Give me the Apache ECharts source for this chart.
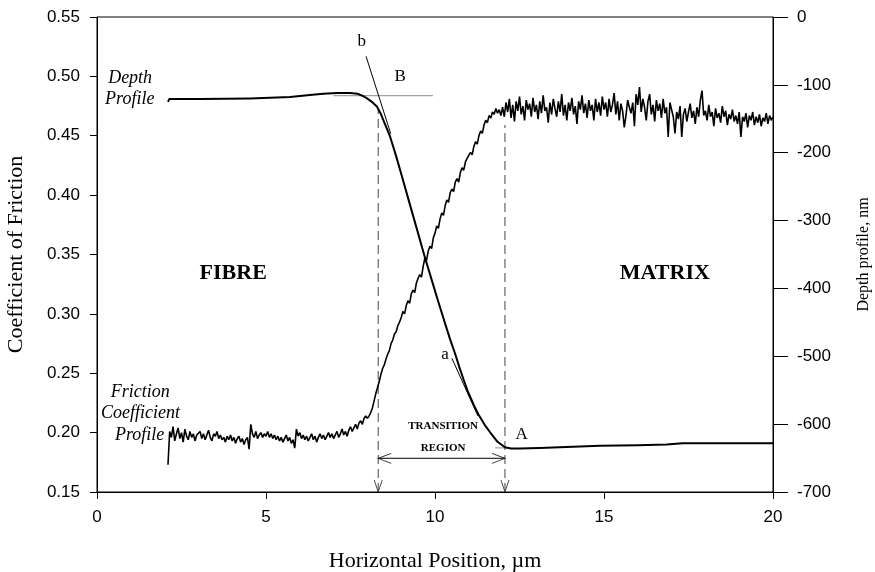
<!DOCTYPE html>
<html><head><meta charset="utf-8">
<script src="https://cdn.jsdelivr.net/npm/echarts@6/dist/echarts.min.js"></script>
<style>html,body{margin:0;padding:0;background:#fff}#c{width:875px;height:572px}</style>
</head><body><div id="c"></div>
<script>
// ---------------- data ----------------
const xTicks = [0, 5, 10, 15, 20];
const frictionStartX = 2.1;
const frictionStepX = 0.05;
const friction = [
  // 2.10 - 2.95
  0.173, 0.201, 0.196, 0.205, 0.193, 0.199, 0.204, 0.195, 0.200, 0.192, 0.203, 0.197, 0.194, 0.201, 0.196, 0.199, 0.193, 0.198,
  // 3.00 - 3.95
  0.197, 0.201, 0.195, 0.199, 0.194, 0.198, 0.202, 0.196, 0.193, 0.199, 0.197, 0.201, 0.195, 0.198, 0.194, 0.196, 0.192, 0.197, 0.194, 0.198,
  // 4.00 - 4.95
  0.193, 0.196, 0.191, 0.195, 0.197, 0.192, 0.195, 0.190, 0.194, 0.196, 0.186, 0.207, 0.199, 0.196, 0.201, 0.195, 0.198, 0.200, 0.196, 0.199,
  // 5.00 - 5.95
  0.197, 0.201, 0.196, 0.199, 0.195, 0.198, 0.194, 0.197, 0.193, 0.196, 0.192, 0.195, 0.198, 0.193, 0.196, 0.191, 0.194, 0.187, 0.203, 0.197,
  // 6.00 - 6.95
  0.200, 0.195, 0.198, 0.194, 0.197, 0.193, 0.196, 0.199, 0.194, 0.197, 0.192, 0.196, 0.199, 0.195, 0.198, 0.194, 0.197, 0.200, 0.196, 0.199,
  // 7.00 - 7.95
  0.195, 0.198, 0.201, 0.196, 0.199, 0.203, 0.198, 0.201, 0.197, 0.202, 0.205, 0.201, 0.204, 0.207, 0.203, 0.208, 0.210, 0.207, 0.212, 0.214,
  // 8.00 - 8.95
  0.212, 0.214, 0.217, 0.221, 0.227, 0.233, 0.238, 0.243, 0.249, 0.254, 0.257, 0.262, 0.266, 0.269, 0.275, 0.278, 0.283, 0.285, 0.290, 0.293,
  // 9.00 - 9.95
  0.297, 0.302, 0.300, 0.307, 0.311, 0.309, 0.317, 0.320, 0.318, 0.326, 0.330, 0.333, 0.331, 0.340, 0.347, 0.345, 0.353, 0.357, 0.355, 0.364,
  // 10.00 - 10.95
  0.368, 0.374, 0.372, 0.380, 0.385, 0.383, 0.391, 0.396, 0.394, 0.402, 0.405, 0.403, 0.411, 0.414, 0.411, 0.419, 0.423, 0.421, 0.428, 0.431,
  // 11.00 - 11.95
  0.430, 0.436, 0.434, 0.441, 0.445, 0.443, 0.450, 0.454, 0.452, 0.459, 0.463, 0.461, 0.467, 0.465, 0.470, 0.468, 0.473, 0.469, 0.472, 0.467,
  // 12.00 - 12.95
  0.474, 0.466, 0.478, 0.470, 0.481, 0.465, 0.476, 0.462, 0.479, 0.471, 0.483, 0.468, 0.475, 0.463, 0.480, 0.472, 0.477, 0.466, 0.482, 0.470,
  // 13.00 - 13.95
  0.476, 0.464, 0.479, 0.469, 0.484, 0.471, 0.474, 0.461, 0.478, 0.468, 0.481, 0.473, 0.466, 0.479, 0.470, 0.485, 0.467, 0.476, 0.463, 0.478,
  // 14.00 - 14.95
  0.471, 0.482, 0.468, 0.475, 0.460, 0.479, 0.472, 0.484, 0.469, 0.477, 0.465, 0.480, 0.471, 0.476, 0.463, 0.481, 0.470, 0.478, 0.467, 0.483,
  // 15.00 - 15.95
  0.472, 0.478, 0.466, 0.481, 0.470, 0.476, 0.486, 0.468, 0.479, 0.463, 0.477, 0.471, 0.457, 0.467, 0.480, 0.474, 0.469, 0.478, 0.458, 0.485,
  // 16.00 - 16.95
  0.476, 0.491, 0.470, 0.481, 0.474, 0.463, 0.479, 0.485, 0.468, 0.476, 0.462, 0.480, 0.471, 0.477, 0.465, 0.481, 0.469, 0.474, 0.449, 0.478,
  // 17.00 - 17.95
  0.472, 0.466, 0.452, 0.470, 0.464, 0.475, 0.449, 0.468, 0.473, 0.462, 0.470, 0.477, 0.465, 0.471, 0.460, 0.474, 0.466, 0.480, 0.488, 0.467,
  // 18.00 - 18.95
  0.471, 0.463, 0.476, 0.466, 0.470, 0.458, 0.473, 0.465, 0.469, 0.461, 0.475, 0.466, 0.471, 0.459, 0.468, 0.464, 0.472, 0.462, 0.467, 0.460,
  // 19.00 - 20.00
  0.470, 0.449, 0.466, 0.462, 0.469, 0.457, 0.467, 0.463, 0.470, 0.459, 0.466, 0.461, 0.468, 0.458, 0.465, 0.462, 0.469, 0.460, 0.467, 0.463, 0.466
];
const depthX  = [2.10, 2.14, 3.05, 4.53, 5.71, 6.30, 6.69, 7.10, 7.49, 7.70, 7.85, 7.99, 8.13, 8.28, 8.40, 8.52, 8.67, 8.85, 9.00, 9.21, 9.45, 9.70, 9.90, 10.05, 10.25, 10.44, 10.60, 10.72, 10.85, 10.98, 11.15, 11.30, 11.47, 11.63, 11.85, 12.07, 12.25, 12.51, 13.10, 13.69, 14.88, 16.00, 16.85, 17.33, 18.50, 20.00];
const depthNm = [-125, -121, -121, -120, -118, -115, -113, -112, -112, -113, -116, -120, -125, -132, -143, -158, -176, -205, -231, -268, -310, -354, -387, -412, -444, -474, -497, -516, -535, -553, -572, -587, -601, -612, -626, -634, -636, -636, -635, -634, -632, -631, -630, -628, -628, -628];
const transitionStart = 8.32;
const transitionEnd = 12.07;
const lineB = [[7.0, -116], [9.94, -116]];
const tangentB = [[7.96, -58], [8.69, -172]];
const tangentA = [[10.50, -503], [11.27, -588]];
const tickA = [[11.78, -635], [12.15, -635]];

// ---------------- build ----------------
const serif = 'Liberation Serif';
const sans = 'Liberation Sans';
const frictionData = friction.map((v, i) => [frictionStartX + i * frictionStepX, v]);
const depthData = depthX.map((x, i) => [x, depthNm[i]]);

function txt(x, y, s, extra) {
  return { value: [x, y], name: s, label: Object.assign({ fontFamily: serif, fontSize: 17, color: '#000', opacity: 1, textBorderWidth: 0 }, extra || {}) };
}
const texts = [
  txt(0.98, 0.4986, 'Depth', { fontStyle: 'italic', fontSize: 18 }),
  txt(0.97, 0.4807, 'Profile', { fontStyle: 'italic', fontSize: 18 }),
  txt(1.28, 0.2336, 'Friction', { fontStyle: 'italic', fontSize: 18 }),
  txt(1.29, 0.2163, 'Coefficient', { fontStyle: 'italic', fontSize: 18 }),
  txt(1.26, 0.1980, 'Profile', { fontStyle: 'italic', fontSize: 18 }),
  txt(4.03, 0.334, 'FIBRE', { fontWeight: 'bold', fontSize: 22 }),
  txt(16.8, 0.334, 'MATRIX', { fontWeight: 'bold', fontSize: 22 }),
  txt(10.24, 0.2056, 'TRANSITION', { fontWeight: 'bold', fontSize: 11 }),
  txt(10.24, 0.187, 'REGION', { fontWeight: 'bold', fontSize: 11 }),
  txt(7.83, 0.5292, 'b'),
  txt(8.97, 0.4997, 'B'),
  txt(10.30, 0.2654, 'a'),
  txt(12.56, 0.198, 'A')
];

const dashStyle = { color: '#444', width: 1, type: [9, 5] };
const thin = { color: '#000', width: 1 };

const option = {
  animation: false,
  backgroundColor: '#fff',
  grid: { left: 97, right: 102, top: 17, bottom: 80, containLabel: false, outerBoundsMode: 'none', show: true, borderColor: '#000', borderWidth: 1, backgroundColor: 'transparent' },
  xAxis: {
    type: 'value', min: xTicks[0], max: xTicks[xTicks.length - 1], interval: xTicks[1] - xTicks[0],
    name: 'Horizontal Position, µm', nameLocation: 'middle', nameGap: 58,
    nameTextStyle: { fontFamily: serif, fontSize: 22, color: '#000' },
    axisLine: { show: true, onZero: false, lineStyle: { color: '#000', width: 1 } },
    axisTick: { show: true, length: 7, lineStyle: { color: '#000' } },
    axisLabel: { fontFamily: sans, fontSize: 17, color: '#000', margin: 17 },
    splitLine: { show: false }
  },
  yAxis: [
    {
      type: 'value', min: 0.15, max: 0.55, interval: 0.05, position: 'left',
      name: 'Coefficient of Friction', nameLocation: 'middle', nameRotate: 90, nameGap: 70,
      nameTextStyle: { fontFamily: serif, fontSize: 22, color: '#000' },
      axisLine: { show: true, onZero: false, lineStyle: { color: '#000', width: 1 } },
      axisTick: { show: true, length: 7, lineStyle: { color: '#000' } },
      axisLabel: { fontFamily: sans, fontSize: 17, color: '#000', margin: 17, formatter: v => v.toFixed(2) },
      splitLine: { show: false }
    },
    {
      type: 'value', min: -700, max: 0, interval: 100, position: 'right',
      name: 'Depth profile, nm', nameLocation: 'middle', nameRotate: 90, nameGap: 83,
      nameTextStyle: { fontFamily: serif, fontSize: 16, color: '#000' },
      axisLine: { show: true, onZero: false, lineStyle: { color: '#000', width: 1 } },
      axisTick: { show: true, length: 15, lineStyle: { color: '#000' } },
      axisLabel: { fontFamily: sans, fontSize: 17, color: '#000', margin: 24 },
      splitLine: { show: false }
    }
  ],
  series: [
    { type: 'line', yAxisIndex: 1, data: lineB, symbol: 'none', lineStyle: { color: '#8a8a8a', width: 1 }, silent: true },
    { type: 'line', yAxisIndex: 1, data: tickA, symbol: 'none', lineStyle: { color: '#8a8a8a', width: 1 }, silent: true },
    { type: 'line', yAxisIndex: 0, data: [[transitionStart, 0.15], [transitionStart, 0.472]], symbol: 'none', lineStyle: dashStyle, silent: true },
    { type: 'line', yAxisIndex: 0, data: [[transitionEnd, 0.15], [transitionEnd, 0.459]], symbol: 'none', lineStyle: dashStyle, silent: true },
    { type: 'line', yAxisIndex: 0, data: [[transitionStart, 0.1784], [transitionEnd, 0.1784]], symbol: 'none', lineStyle: thin, silent: true },
    { type: 'line', yAxisIndex: 1, data: tangentB, symbol: 'none', lineStyle: thin, silent: true },
    { type: 'line', yAxisIndex: 1, data: tangentA, symbol: 'none', lineStyle: thin, silent: true },
    {
      type: 'line', name: 'Friction', yAxisIndex: 0, data: frictionData, symbol: 'none',
      lineStyle: { color: '#000', width: 1.6 }, silent: true
    },
    {
      type: 'line', name: 'Depth', yAxisIndex: 1, data: depthData, symbol: 'none', smooth: false,
      lineStyle: { color: '#000', width: 2, join: 'round' }, silent: true
    },
    {
      type: 'scatter', yAxisIndex: 0, silent: true, clip: false,
      itemStyle: { color: 'none', borderColor: '#000', borderWidth: 1 },
      data: [
        { value: [transitionStart, 0.15], symbol: 'path://M0,0L5,12L10,0', symbolSize: [8, 12], symbolOffset: [0, -6] },
        { value: [transitionEnd, 0.15], symbol: 'path://M0,0L5,12L10,0', symbolSize: [8, 12], symbolOffset: [0, -6] },
        { value: [transitionStart, 0.1784], symbol: 'path://M12,0L0,5L12,10', symbolSize: [13, 10], symbolOffset: [6.5, 0] },
        { value: [transitionEnd, 0.1784], symbol: 'path://M0,0L12,5L0,10', symbolSize: [13, 10], symbolOffset: [-6.5, 0] }
      ]
    },
    {
      type: 'scatter', yAxisIndex: 0, silent: true, clip: false,
      symbol: 'rect', symbolSize: 0, itemStyle: { color: '#fff', opacity: 1 },
      label: { show: true, position: 'inside', formatter: '{b}', color: '#000' },
      data: texts
    }
  ]
};
const chart = echarts.init(document.getElementById('c'), null, { renderer: 'canvas' });
chart.setOption(option);
</script>
</body></html>
